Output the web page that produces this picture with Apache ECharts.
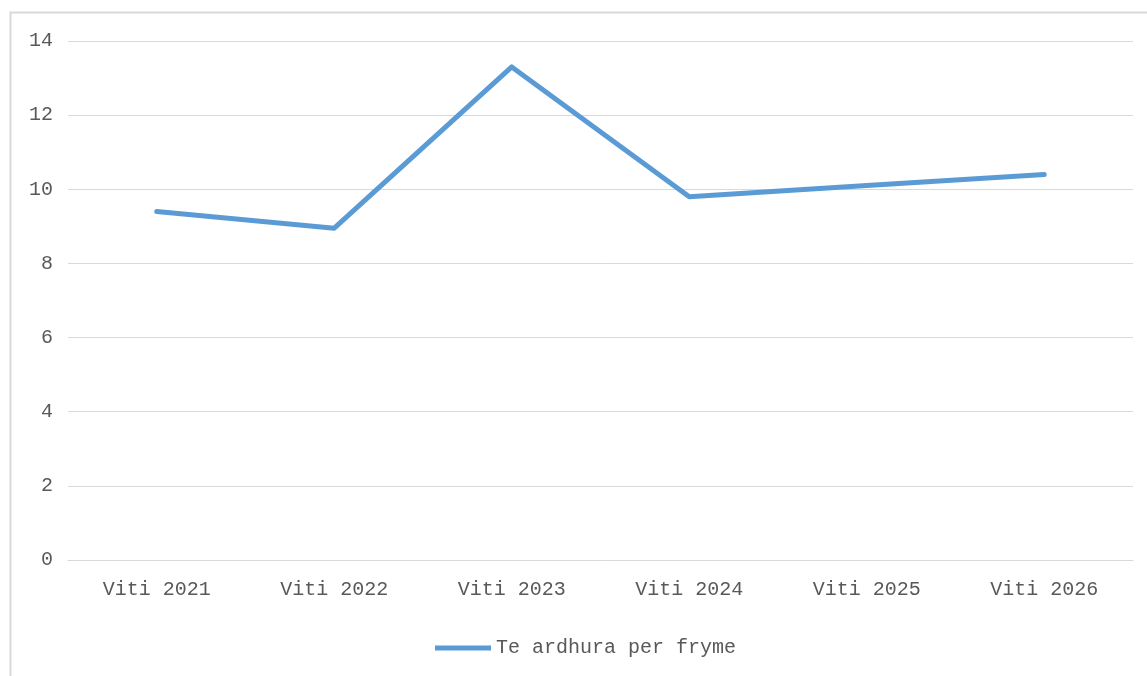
<!DOCTYPE html>
<html>
<head>
<meta charset="utf-8">
<script src="https://cdn.jsdelivr.net/npm/echarts@6/dist/echarts.min.js"></script>
<style>
  html, body { margin: 0; padding: 0; background: #fff; }
  #chart { width: 1147px; height: 676px; }
</style>
</head>
<body>
<div id="chart"></div>
<script>
var categories = ['Viti 2021', 'Viti 2022', 'Viti 2023', 'Viti 2024', 'Viti 2025', 'Viti 2026'];
var seriesName = 'Te ardhura per fryme';
var values = [9.4, 8.95, 13.3, 9.8, 10.1, 10.4];

var FONT = '"Liberation Mono", monospace';

var myChart = echarts.init(document.getElementById('chart'));

var option = {
    backgroundColor: '#fff',
    animation: false,
    graphic: [{
        type: 'rect',
        shape: { x: 10.5, y: 12.5, width: 1160, height: 700 },
        style: { fill: 'none', stroke: '#d9d9d9', lineWidth: 2 },
        silent: true
    }],
    grid: { left: 68, right: 14, top: 41, bottom: 116 },
    legend: {
        data: [seriesName],
        left: 430,
        top: 633,
        icon: 'rect',
        itemWidth: 56,
        itemHeight: 5,
        itemGap: 4,
        textStyle: { fontFamily: FONT, fontSize: 20, color: '#595959' }
    },
    xAxis: {
        type: 'category',
        data: categories,
        boundaryGap: true,
        axisLine: { show: true, lineStyle: { color: '#d9d9d9', width: 1 } },
        axisTick: { show: false },
        axisLabel: { fontFamily: FONT, fontSize: 20, color: '#595959', margin: 20 }
    },
    yAxis: {
        type: 'value',
        min: 0,
        max: 14,
        interval: 2,
        axisLine: { show: false },
        axisTick: { show: false },
        axisLabel: { fontFamily: FONT, fontSize: 20, color: '#595959', margin: 15 },
        splitLine: { lineStyle: { color: '#d9d9d9', width: 1 } }
    },
    series: [{
        name: seriesName,
        type: 'line',
        data: values,
        symbol: 'none',
        lineStyle: { color: '#5b9bd5', width: 5, cap: 'round', join: 'round' },
        itemStyle: { color: '#5b9bd5' }
    }]
};

myChart.setOption(option);
</script>
</body>
</html>
